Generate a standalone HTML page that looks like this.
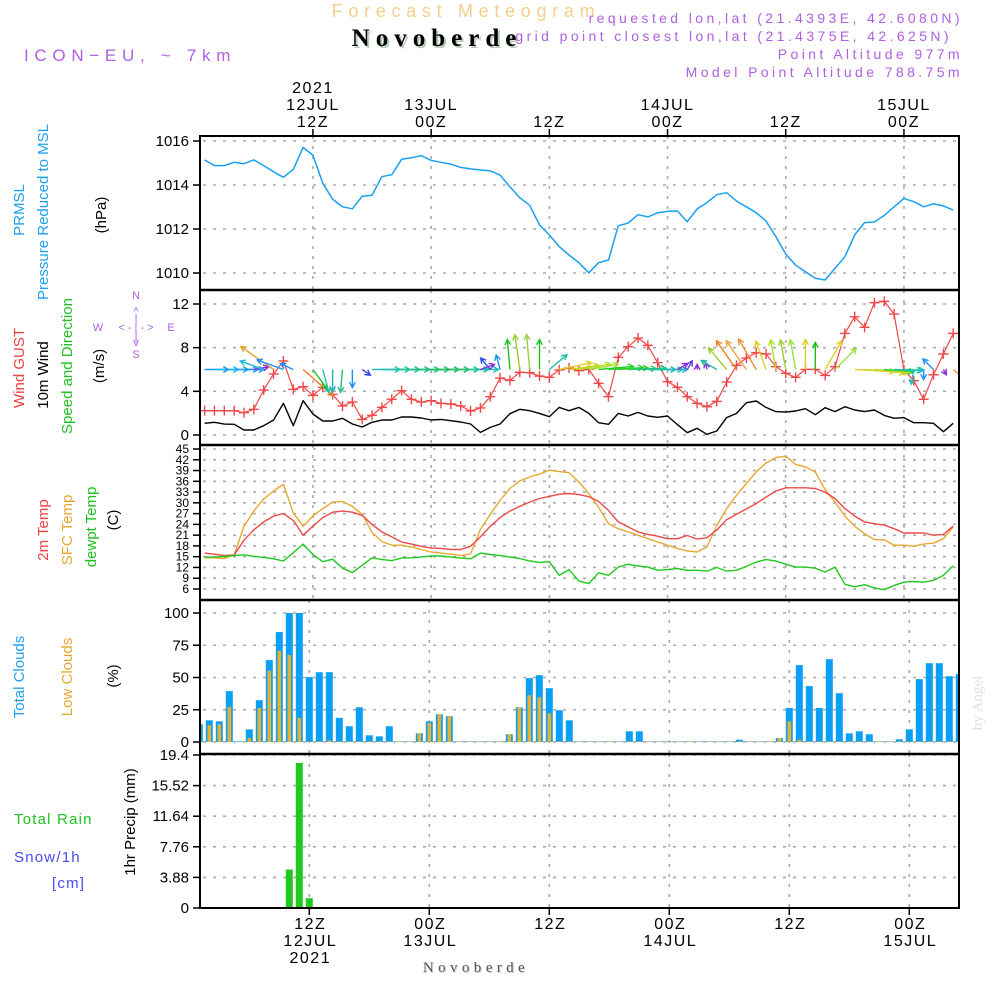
<!DOCTYPE html>
<html><head><meta charset="utf-8">
<style>
html,body{margin:0;padding:0;background:#fff;}
svg{display:block;font-family:"Liberation Sans",sans-serif;}
</style></head>
<body>
<svg id="chart" width="1000" height="1000" viewBox="0 0 1000 1000" xmlns="http://www.w3.org/2000/svg">
<rect x="0" y="0" width="1000" height="1000" fill="#fff"/>
<g>
<text x="466" y="17" text-anchor="middle" font-size="18" fill="#f5cf8a" letter-spacing="5.7">Forecast Meteogram</text>
<text x="439" y="48" text-anchor="middle" font-family="Liberation Serif,serif" font-weight="bold" font-size="25" fill="#b8ccb8" letter-spacing="6">Novoberde</text>
<text x="437" y="46" text-anchor="middle" font-family="Liberation Serif,serif" font-weight="bold" font-size="25" fill="#000" letter-spacing="6">Novoberde</text>
<text x="24" y="61" font-size="17" fill="#b060e0" letter-spacing="5.7">ICON−EU, ~ 7km</text>
<g font-size="14" fill="#b060e0" text-anchor="end" letter-spacing="3.4">
<text x="963" y="23">requested lon,lat (21.4393E, 42.6080N)</text>
<text x="952" y="41">grid point closest lon,lat (21.4375E, 42.625N)</text>
<text x="963" y="59">Point Altitude 977m</text>
<text x="963" y="77">Model Point Altitude 788.75m</text>
</g>
</g>
<g id="grid"></g>
<g id="marks"></g>
<g id="axes"></g>
<g font-size="15">
<text transform="translate(24,210) rotate(-90)" text-anchor="middle" fill="#1ea0f0">PRMSL</text>
<text transform="translate(48,212) rotate(-90)" text-anchor="middle" fill="#1ea0f0">Pressure Reduced to MSL</text>
<text transform="translate(106,215) rotate(-90)" text-anchor="middle" fill="#000">(hPa)</text>
<text transform="translate(24,368) rotate(-90)" text-anchor="middle" fill="#f04040">Wind GUST</text>
<text transform="translate(48,375) rotate(-90)" text-anchor="middle" fill="#000">10m Wind</text>
<text transform="translate(72,366) rotate(-90)" text-anchor="middle" fill="#20c020">Speed and Direction</text>
<text transform="translate(104,366) rotate(-90)" text-anchor="middle" fill="#000">(m/s)</text>
<g fill="#b060e0" font-size="11" text-anchor="middle">
<text x="136" y="299">N</text><text x="98" y="331">W</text><text x="171" y="331">E</text><text x="136" y="358">S</text>
<text x="136" y="315">^</text><text x="136" y="346">v</text>
<text x="136" y="331">&lt; - | - &gt;</text><text x="136" y="322">|</text><text x="136" y="340">|</text>
</g>
<text transform="translate(48,530) rotate(-90)" text-anchor="middle" fill="#f04040">2m Temp</text>
<text transform="translate(72,530) rotate(-90)" text-anchor="middle" fill="#e8a830">SFC Temp</text>
<text transform="translate(96,527) rotate(-90)" text-anchor="middle" fill="#20c020">dewpt Temp</text>
<text transform="translate(118,520) rotate(-90)" text-anchor="middle" fill="#000">(C)</text>
<text transform="translate(24,677) rotate(-90)" text-anchor="middle" fill="#1ea0f0">Total Clouds</text>
<text transform="translate(72,677) rotate(-90)" text-anchor="middle" fill="#e8a830">Low Clouds</text>
<text transform="translate(118,676) rotate(-90)" text-anchor="middle" fill="#000">(%)</text>
<text x="14" y="824" fill="#20c020" letter-spacing="1.2">Total   Rain</text>
<text x="14" y="862" fill="#4a4af0" letter-spacing="1.2">Snow/1h</text>
<text x="52" y="888" fill="#4a4af0" letter-spacing="1.2">[cm]</text>
<text transform="translate(135,822) rotate(-90)" text-anchor="middle" fill="#000">1hr Precip (mm)</text>
</g>
<text x="477" y="973" text-anchor="middle" font-family="Liberation Serif,serif" font-size="15" fill="#c8d4c8" letter-spacing="4.4">Novoberde</text>
<text x="476" y="972" text-anchor="middle" font-family="Liberation Serif,serif" font-size="15" fill="#555" letter-spacing="4.4">Novoberde</text>
<text transform="translate(982,703) rotate(-90)" text-anchor="middle" font-family="Liberation Serif,serif" font-size="15" fill="#dde2dd">by Angel</text>
</svg>
<script>
// ---- data (hours 1..77 from 00Z 12JUL 2021) ----
const hours = Array.from({length:77},(_,i)=>i+1);
const pressure = [1015.14,1014.88,1014.88,1015.03,1014.97,1015.14,1014.88,1014.60,1014.35,1014.71,1015.71,1015.36,1014.08,1013.36,1013.01,1012.92,1013.49,1013.53,1014.38,1014.47,1015.17,1015.24,1015.33,1015.12,1015.03,1014.95,1014.80,1014.73,1014.68,1014.64,1014.45,1013.92,1013.42,1013.08,1012.18,1011.73,1011.20,1010.82,1010.47,1010.01,1010.47,1010.59,1012.15,1012.27,1012.65,1012.55,1012.74,1012.80,1012.82,1012.33,1012.91,1013.20,1013.56,1013.65,1013.27,1013.01,1012.74,1012.36,1011.65,1010.86,1010.36,1010.06,1009.76,1009.68,1010.21,1010.74,1011.73,1012.29,1012.32,1012.62,1013.01,1013.39,1013.24,1013.01,1013.14,1013.05,1012.86];
const gust = [2.23,2.23,2.23,2.23,2.04,2.35,4.12,5.59,6.78,4.18,4.43,3.63,4.37,3.72,2.66,3.02,1.43,1.80,2.53,3.27,4.06,3.27,3.02,3.14,2.90,2.84,2.66,2.20,2.48,3.51,5.22,5.00,5.74,5.71,5.40,5.28,5.95,6.14,5.89,6.01,4.73,3.51,7.11,8.09,8.88,8.21,6.62,4.88,4.37,3.51,2.90,2.60,3.08,4.85,6.38,7.05,7.54,7.42,6.26,5.65,5.28,6.01,6.01,5.46,6.26,9.31,10.83,9.86,12.12,12.24,11.08,5.95,4.97,3.27,5.52,7.42,9.31];
const wind10m = [1.07,1.16,1.0,0.98,0.46,0.46,0.85,1.37,2.90,0.85,3.14,1.92,1.28,1.28,1.53,1.01,0.73,1.16,1.37,1.37,1.65,1.65,1.56,1.37,1.43,1.31,1.19,1.01,0.24,0.70,1.01,1.95,2.35,2.23,1.98,1.68,2.53,2.23,2.53,1.98,1.13,0.98,1.98,1.74,2.07,1.74,1.62,1.74,0.95,0.21,0.61,0.06,0.37,1.59,1.98,2.96,3.11,2.53,2.14,2.10,2.20,2.41,1.86,2.50,2.14,2.59,2.29,2.14,2.29,1.80,1.53,1.59,1.13,1.13,1.07,0.30,1.07];
const windDir = [0,0,0,0,0,10,160,145,160,155,-41,-54,-75,-90,-95,-90,-35,0,0,0,0,0,0,0,0,0,0,0,20,130,105,95,98,95,90,40,12,8,10,10,5,3,3,2,3,0,0,0,30,60,90,100,150,130,125,125,120,110,100,100,100,90,90,60,45,0,-3,-5,-5,-4,-2,-2,-100,-90,135,-60,-40];
const windLen = [2.4,2.4,2.4,2.4,2.0,1.5,2.5,4.0,2.8,1.4,4.0,2.4,2.4,2.2,2.3,1.8,1.0,2.8,2.8,2.8,2.8,2.8,2.8,2.8,2.8,2.8,2.8,2.8,1.5,1.5,1.5,3.0,3.5,3.5,3.0,2.3,3.3,3.0,3.2,3.0,3.5,3.5,3.0,2.8,2.8,2.8,2.5,2.0,1.2,1.0,0.5,0.7,1.8,2.8,3.5,3.5,3.5,3.0,3.0,3.0,3.0,3.0,2.7,3.3,3.0,0,4.0,4.0,3.5,3.0,2.8,2.0,1.5,1.0,1.5,0.6,1.8];
const windColor = ["#1e90ff","#00bfff","#20b0e0","#2aa0ff","#1e90ff","#8a2be2","#20c0d0","#e8a030","#1e90ff","#1e90ff","#f08020","#20c020","#20c0b0","#20b0b0","#20c080","#1e90ff","#4040e0","#20c0c0","#20c0b0","#20c0a0","#20c090","#20c080","#20c070","#20c060","#20c060","#20c070","#20c090","#20c0b0","#8a2be2","#3050e0","#1e90ff","#20c020","#9acd32","#9ad040","#20c020","#20c0a0","#e0d020","#c8d820","#b0e020","#a0e030","#20d020","#20d040","#40d020","#20d060","#20c080","#20c0a0","#20c0b0","#20b0c0","#8a2be2","#6040e0","#8a2be2","#8a2be2","#20c0a0","#9acd32","#f08020","#f0a040","#f09030","#e0d020","#b0e020","#a0d030","#a0e040","#e0d020","#20c020","#e0d020","#a0e040","#20c020","#e0d020","#d8d020","#c0d820","#20d040","#20c0a0","#20c0c0","#20c0c0","#1e90ff","#1e90ff","#8a2be2","#e8a030"];
const temp2m = [16.0,15.7,15.3,15.5,19.6,22.5,24.7,26.3,27.0,25.1,21.0,23.5,25.9,27.4,27.7,27.4,26.5,24.0,21.9,20.5,19.1,18.5,17.9,17.4,17.3,17.0,17.0,17.9,20.5,23.5,25.9,27.7,29.0,30.2,31.2,31.8,32.4,32.6,32.3,31.7,30.4,27.9,24.7,23.3,21.9,21.2,20.7,20.0,20.0,20.9,19.9,20.3,22.4,25.3,26.8,28.3,29.8,31.6,33.3,34.2,34.2,34.2,34.0,33.0,31.2,28.4,26.3,24.7,24.2,23.8,22.8,21.6,21.6,21.6,21.0,21.2,23.5];
const tempSfc = [14.7,14.7,14.5,15.5,23.5,27.7,31.1,33.3,35.2,27.2,23.5,26.3,28.4,30.2,30.4,29.0,26.8,21.8,19.2,18.2,18.2,17.7,17.0,16.3,16.0,15.7,15.3,15.8,22.6,26.8,30.7,34.0,36.1,37.2,38.0,39.1,38.7,38.4,35.8,32.6,28.8,24.2,22.8,21.9,21.0,20.0,19.1,18.2,17.3,16.6,16.3,17.7,23.7,28.4,32.1,35.4,38.6,41.1,42.6,43.0,40.7,40.0,38.6,33.7,30.2,26.3,23.5,21.4,19.8,19.7,18.2,18.2,17.9,18.5,18.8,20.0,23.3];
const dewpt = [14.9,14.9,15.1,15.3,15.5,15.1,14.8,14.4,13.8,16.1,18.5,15.6,13.6,14.3,11.8,10.6,12.6,14.7,14.2,13.9,14.6,14.7,14.9,15.2,15.2,14.9,14.6,14.4,16.0,15.6,15.3,14.9,14.5,13.8,13.4,13.6,9.8,11.4,8.2,7.5,10.5,9.8,12.1,12.9,12.4,12.1,11.2,11.4,11.7,11.2,11.2,11.0,12.0,11.0,11.2,12.3,13.5,14.2,13.8,12.9,12.1,12.1,11.8,10.7,12.1,7.3,6.6,7.2,6.3,5.8,7.0,7.9,8.1,7.9,8.4,9.8,12.5];
const totalClouds = [13.7,16.8,16,39.4,0.5,9.8,32.4,63.5,85.2,100,100,50.3,54.1,54.1,18.7,12.2,26.9,5.2,4.4,12.2,0.5,0.5,6.7,16,21.5,20,0.5,0.5,0.5,0.5,0.5,6,26.9,49.5,51.8,41.7,24.6,16.8,0.5,0.5,0.5,0.5,0.5,8.3,8.3,0.5,0.5,0.5,0.5,0.5,0.5,0.5,0.5,0.5,1.8,0.5,0.5,0.5,3.1,26.4,59.6,43.3,26.4,64.2,37.8,6.7,8.3,6,0.5,0.5,2.1,9.8,48.7,61.1,61.1,51,52.6];
const lowClouds = [13,13,13.7,27.2,0,3.1,26.4,55.2,70.7,67.4,18.7,0.5,0.5,1.3,0.5,0.5,0.5,0.5,0.5,0.5,0.5,0.5,6.7,14.8,21.5,20,0.5,0.5,0.5,0.5,0.5,6,26.9,36.3,34.7,22.3,0.5,0.5,0.5,0.5,0.5,0.5,0.5,0.5,0.5,0.5,0.5,0.5,0.5,0.5,0.5,0.5,0.5,0.5,0.5,0.5,0.5,0.5,3.1,16,1.8,0.5,0.5,0.5,0.5,0.5,0.5,0.5,0.5,0.5,0.5,0.5,0.5,0.5,0.5,0.5,0.5];
const precip = [0,0,0,0,0,0,0,0,0,4.88,18.4,1.25,0,0,0,0,0,0,0,0,0,0,0,0,0,0,0,0,0,0,0,0,0,0,0,0,0,0,0,0,0,0,0,0,0,0,0,0,0,0,0,0,0,0,0,0,0,0,0,0,0,0,0,0,0,0,0,0,0,0,0,0,0,0,0,0,0];
const pressTicks = [1010,1012,1014,1016];
const windTicks = [0,4,8,12];
const tempTicks = [6,9,12,15,18,21,24,27,30,33,36,39,42,45];
const cloudTicks = [0,25,50,75,100];
const precipTicks = [0,3.88,7.76,11.64,15.52,19.4];
const majorHours = [12,24,36,48,60,72];
const topTimeLabels = [["2021","12JUL","12Z"],["","13JUL","00Z"],["","","12Z"],["","14JUL","00Z"],["","","12Z"],["","15JUL","00Z"]];
const bottomTimeLabels = [["12Z","12JUL","2021"],["00Z","13JUL",""],["12Z","",""],["00Z","14JUL",""],["12Z","",""],["00Z","15JUL",""]];

// ---- axes ----
const L=200,R=959;
const xL = h => 194.75 + 9.85*h;
const xB = h => 199.3 + 10*(h-1);
const lin = (d0,d1,p0,p1) => v => p0 + (v-d0)*(p1-p0)/(d1-d0);
const yP = lin(1010,1016,273,141);
const yW = lin(0,12,435,304);
const yT = lin(6,45,589,449);
const yC = lin(0,100,742,613);
const yR = lin(0,19.4,908,755);
const NS="http://www.w3.org/2000/svg";
function mk(tag,attrs,parent){const e=document.createElementNS(NS,tag);for(const k in attrs)e.setAttribute(k,attrs[k]);parent.appendChild(e);return e;}
const grid=document.getElementById('grid'), marks=document.getElementById('marks'), axes=document.getElementById('axes');
const panels=[{t:136,b:290,s:yP,ticks:pressTicks,vx:xL,n:'pressure'},{t:290,b:445,s:yW,ticks:windTicks,vx:xL,n:'wind'},{t:445,b:600,s:yT,ticks:tempTicks,vx:xL,n:'temp'},{t:600,b:754,s:yC,ticks:cloudTicks,vx:xB,n:'cloud'},{t:754,b:908,s:yR,ticks:precipTicks,vx:xB,n:'precip'}];
panels.forEach(p=>{
  p.ticks.forEach(v=>{
    const y=p.s(v);
    const g=mk('line',{x1:L+3,x2:R,y1:y,y2:y,stroke:'#aaa','stroke-width':1.6,'stroke-dasharray':'3,7'},grid);
    
    
    const tk=mk('line',{x1:L-7,x2:L,y1:y,y2:y,stroke:'#000','stroke-width':1.5},axes);
    
    
    const lab=mk('text',{x:L-11,y:y+(p.n==='temp'?4:5),'text-anchor':'end','font-size':p.n==='temp'?12:15,fill:'#000'},axes);
    lab.textContent=String(v);
    
    
  });
  majorHours.forEach(h=>{
    const x=p.vx(h);
    const g=mk('line',{x1:x,x2:x,y1:p.t,y2:p.b,stroke:'#aaa','stroke-width':1.6,'stroke-dasharray':'3,7'},grid);
    
    
  });
});
majorHours.forEach((h,i)=>{
  const x=xL(h);
  const tk=mk('line',{x1:x,x2:x,y1:129,y2:136,stroke:'#000','stroke-width':1.5},axes);
  
  
  topTimeLabels[i].forEach((s,j)=>{ if(!s)return;
    const t=mk('text',{x:x,y:93+j*17,'text-anchor':'middle','font-size':16,fill:'#000','letter-spacing':1.5},axes);
    t.textContent=s;
    
    
  });
  const xb=xB(h);
  const bt=mk('line',{x1:xb,x2:xb,y1:908,y2:915,stroke:'#000','stroke-width':1.5},axes);
  
  
  bottomTimeLabels[i].forEach((s,j)=>{ if(!s)return;
    const t=mk('text',{x:xb+1,y:929+j*17,'text-anchor':'middle','font-size':16,fill:'#000','letter-spacing':1.5},axes);
    t.textContent=s;
    
    
  });
});
const defs=mk('defs',{},document.getElementById('chart'));
const cp=mk('clipPath',{id:'plotclip'},defs);
mk('rect',{x:L,y:136,width:R-L,height:772},cp);
marks.setAttribute('clip-path','url(#plotclip)');
function poly(vals,sy,color,name,w){
  const pts=hours.map((h,i)=>xL(h).toFixed(1)+','+sy(vals[i]).toFixed(1)).join(' ');
  const e=mk('polyline',{points:pts,fill:'none',stroke:color,'stroke-width':w||1.4,'stroke-linejoin':'round'},marks);
  
  
}
hours.forEach((h,i)=>{
  const x=xB(h);
  const b=mk('rect',{x:x-3.5,y:yC(totalClouds[i]),width:7,height:Math.max(0,742-yC(totalClouds[i])),fill:'#0aa0f5'},marks);
  
  
  const o=mk('rect',{x:x-1.8,y:yC(lowClouds[i]),width:3.6,height:Math.max(0,742-yC(lowClouds[i])),fill:'#e8b030'},marks);
  
  
  if(precip[i]>0){
    const p=mk('rect',{x:x-3.5,y:yR(precip[i]),width:7,height:908-yR(precip[i]),fill:'#20c820'},marks);
    
    
  }
});
poly(pressure,yP,'#1aa0f0','pressure-line',1.5);
poly(wind10m,yW,'#000','wind-10m-line',1.4);
poly(gust,yW,'#f04848','wind-gust-line',1.2);
hours.forEach((h,i)=>{
  const x=xL(h),y=yW(gust[i]);
  const m=mk('path',{d:`M${x-5},${y}H${x+5}M${x},${y-5}V${y+5}`,stroke:'#f04848','stroke-width':1.4},marks);
  
  
});
hours.forEach((h,i)=>{
  if(!windLen[i])return;
  const x0=xL(h),y0=yW(6);
  const a=windDir[i]*Math.PI/180,len=windLen[i]*10;
  const x1=x0+Math.cos(a)*len,y1=y0-Math.sin(a)*len;
  const hx1=x1-Math.cos(a-0.5)*6,hy1=y1+Math.sin(a-0.5)*6,hx2=x1-Math.cos(a+0.5)*6,hy2=y1+Math.sin(a+0.5)*6;
  const w=mk('path',{d:`M${x0},${y0}L${x1},${y1}M${hx1},${hy1}L${x1},${y1}L${hx2},${hy2}`,fill:'none',stroke:windColor[i],'stroke-width':1.4},marks);
  
  
});
poly(tempSfc,yT,'#e8a830','sfc-temp-line',1.4);
poly(temp2m,yT,'#f04848','temp-2m-line',1.4);
poly(dewpt,yT,'#20c820','dewpt-line',1.4);
const fr=mk('g',{},axes);


mk('rect',{x:L,y:136,width:R-L,height:772,fill:'none',stroke:'#000','stroke-width':2},fr);
[290,445,600,754].forEach(y=>mk('line',{x1:L,x2:R,y1:y,y2:y,stroke:'#000','stroke-width':2.5},fr));
</script>
</body></html>
